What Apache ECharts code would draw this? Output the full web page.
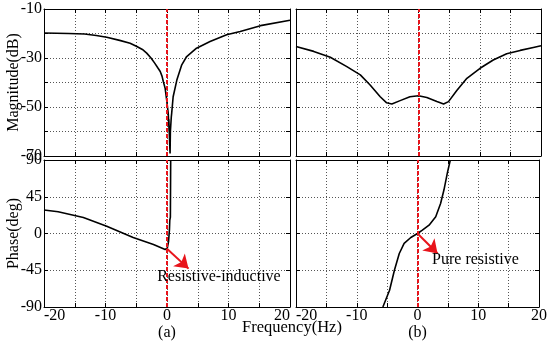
<!DOCTYPE html>
<html><head><meta charset="utf-8">
<script src="https://cdn.jsdelivr.net/npm/echarts@6/dist/echarts.min.js"></script>
<style>html,body{margin:0;padding:0;background:#fff}#c{width:550px;height:342px}</style>
</head><body><div id="c"></div>
<script>
// Frequency (Hz) vs magnitude (dB) / phase (deg)
const magA = [[-20,-19.8],[-16,-20],[-13.4,-20.2],[-11.5,-20.8],[-9.8,-21.5],[-7.7,-22.8],[-6,-24],[-4.9,-25.3],[-4,-26.5],[-3.3,-28.0],[-2.6,-30],[-2.0,-32.1],[-1.5,-34],[-1.1,-35.5],[-0.8,-37.5],[-0.6,-39.6],[-0.3,-42.4],[-0.05,-47.2],[0.2,-52.6],[0.35,-60],[0.3,-55],[0.45,-66],[0.5,-69],[0.55,-60],[0.7,-54],[0.76,-52.6],[1.0,-45.8],[1.6,-39],[2.4,-32.8],[3.2,-29.4],[4.8,-26],[7.0,-23.3],[9.7,-20.5],[11.9,-19.2],[15.2,-16.8],[20,-14.6]];
const phaseA = [[-20,28.7],[-17.7,26.6],[-13.6,19.7],[-9.8,9.0],[-5.5,-4.9],[-2.2,-13.5],[-0.3,-19.6],[0.05,-18],[0.25,-10],[0.4,5],[0.45,16],[0.55,20],[0.6,90]];
const magB = [[-20,-25.3],[-17.1,-27.3],[-14.4,-29.7],[-11.7,-33.5],[-9.5,-36.9],[-7.9,-41],[-6.25,-45.8],[-5.2,-48.3],[-4.35,-48.8],[-3.0,-47.4],[-1.4,-45.8],[0,-45.4],[1.36,-46.1],[3.0,-47.8],[4.1,-48.8],[4.9,-47.8],[6.25,-43.3],[7.9,-38.3],[10.05,-34.2],[12.2,-30.8],[14.4,-28.3],[16.6,-26.9],[18.75,-25.7],[20,-25.0]];
const phaseB = [[-5.7,-90],[-4.6,-69.5],[-3.8,-45],[-3.0,-24.5],[-2.2,-12.2],[-1.1,-4.9],[0,0],[0.8,4.1],[1.9,10.2],[3.0,20.5],[3.8,36.8],[4.35,53.2],[4.9,73.6],[5.4,90]];
const arrowA = [[-0.05,-18.4],[3.5,-43]];
const arrowB = [[0,0],[3.3,-24.5]];
const noteA = {pos:[-1.6,-53.6], text:'Resistive-inductive'};
const noteB = {pos:[2.4,-32.7], text:'Pure resistive'};
const xTicks = {min:-20, max:20, interval:5};
const magTicks = {min:-70, max:-10, interval:10};
const phaseTicks = {min:-90, max:90, interval:45};

const FONT = 'Liberation Serif';
const grids = [
  {left:44, top:9, width:246, height:147},
  {left:296, top:9, width:245, height:147},
  {left:44, top:160, width:246, height:147},
  {left:296, top:160, width:245, height:147}
];
const xAxis = [], yAxis = [];
const axisLine = {show:true, onZero:false, lineStyle:{color:'#000', width:1}};
const axisTick = {show:true, inside:true, length:4, lineStyle:{color:'#000'}};
const splitLine = {show:true, lineStyle:{color:'#555', type:[1,2], width:1}};
grids.forEach((g,i)=>{
  const bottomRow = i>=2, leftCol = i%2===0;
  const yt = i<2 ? magTicks : phaseTicks;
  xAxis.push({type:'value', gridIndex:i, position:'bottom', ...xTicks, axisLine, axisTick, splitLine,
    name: bottomRow ? (leftCol?'(a)':'(b)') : '', nameLocation:'middle', nameGap:10,
    nameTextStyle:{fontFamily:FONT, fontSize:16, color:'#000'},
    axisLabel:{show:bottomRow, margin:1, fontFamily:FONT, fontSize:16, color:'#000',
      alignMinLabel:'left', alignMaxLabel: leftCol ? 'right' : 'center',
      formatter:v=> v%10===0? String(v):''}});
  xAxis.push({type:'value', gridIndex:i, position:'top', ...xTicks, axisLine, axisTick, splitLine:{show:false}, axisLabel:{show:false}});
  yAxis.push({type:'value', gridIndex:i, position:'left', ...yt, axisLine, axisTick, splitLine,
    name: leftCol ? (i<2?'Magnitude(dB)':'Phase(deg)') : '', nameLocation:'middle', nameGap:22,
    nameMoveOverlap:false,
    nameTextStyle:{fontFamily:FONT, fontSize:16, color:'#000'},
    axisLabel:{show:leftCol, margin:2, fontFamily:FONT, fontSize:16, color:'#000',
      formatter: v => (i<2 ? ((v-magTicks.min)%20===0 ? String(v) : '') : String(v))}});
  yAxis.push({type:'value', gridIndex:i, position:'right', ...yt, axisLine, axisTick, splitLine:{show:false}, axisLabel:{show:false}});
});
const zeroLine = {silent:true, symbol:'none', label:{show:false}, animation:false,
  lineStyle:{color:'#e8141b', type:[4,2], width:2}, data:[{xAxis:0}]};
function curve(data, i){
  return {type:'line', xAxisIndex:2*i, yAxisIndex:2*i, data, showSymbol:false, symbol:'none',
    lineStyle:{color:'#000', width:1.6}, animation:false, clip:true, markLine:zeroLine, z:3};
}
function annot(arrow, note, i){
  return {type:'line', xAxisIndex:2*i, yAxisIndex:2*i, data:[], animation:false, z:5,
    markLine:{silent:true, animation:false, symbol:['none','arrow'], symbolSize:13, label:{show:false},
      lineStyle:{color:'#e8141b', type:'solid', width:2},
      data:[[{coord:arrow[0]},{coord:arrow[1]}]]},
    markPoint:{silent:true, animation:false, symbol:'circle', symbolSize:0,
      data:[{coord:note.pos, value:note.text}],
      label:{show:true, position:'right', distance:0, formatter:note.text, fontFamily:FONT, fontSize:16, color:'#000'}}};
}
const option = {
  backgroundColor:'#fff',
  animation:false,
  grid: grids,
  xAxis, yAxis,
  graphic:[{type:'text', left:242, top:319, style:{text:'Frequency(Hz)', font:'16.5px "Liberation Serif"', fill:'#000'}}],
  series:[curve(magA,0), curve(magB,1), curve(phaseA,2), curve(phaseB,3), annot(arrowA,noteA,2), annot(arrowB,noteB,3)]
};
const chart = echarts.init(document.getElementById('c'));
chart.setOption(option);
</script></body></html>
